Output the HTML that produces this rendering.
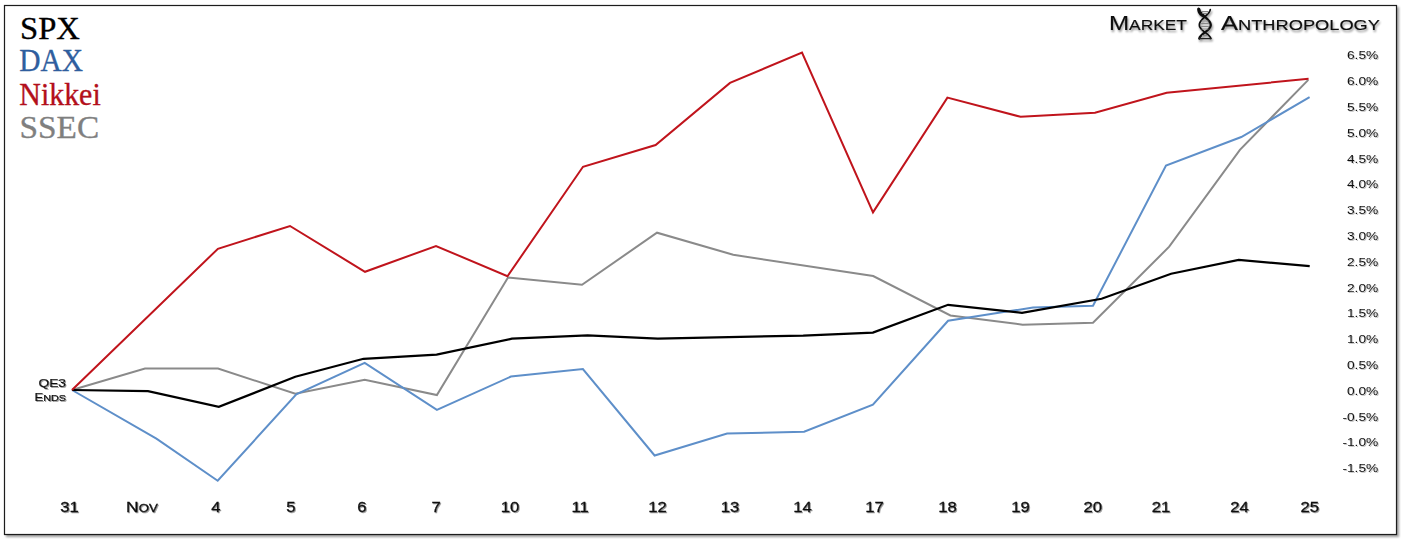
<!DOCTYPE html>
<html><head><meta charset="utf-8">
<style>
html,body{margin:0;padding:0;background:#fff;width:1405px;height:544px;overflow:hidden;}
svg{position:absolute;left:0;top:0;}
.yl{font-family:"Liberation Sans",sans-serif;font-size:11px;fill:#111;}
.xl{font-family:"Liberation Sans",sans-serif;font-size:14.5px;fill:#111;stroke:#111;stroke-width:0.3px;}
.sc{font-size:11px;}
.leg{font-family:"Liberation Serif",serif;font-size:32px;stroke-width:0.35px;}
.logo{font-family:"Liberation Sans",sans-serif;font-size:19.5px;fill:#0a0a0a;stroke:#0a0a0a;stroke-width:0.1px;}
.lsc{font-size:14px;}
.q{font-family:"Liberation Sans",sans-serif;font-size:11.5px;fill:#111;stroke:#111;stroke-width:0.2px;}
</style></head><body>
<svg width="1405" height="544" viewBox="0 0 1405 544">
<defs>
<filter id="sh" x="-5%" y="-5%" width="110%" height="120%"><feGaussianBlur in="SourceAlpha" stdDeviation="1.3"/><feOffset dx="2" dy="2"/><feComponentTransfer><feFuncA type="linear" slope="0.38"/></feComponentTransfer><feMerge><feMergeNode/><feMergeNode in="SourceGraphic"/></feMerge></filter>
<filter id="tsh" x="-10%" y="-10%" width="120%" height="140%"><feGaussianBlur in="SourceAlpha" stdDeviation="0.7"/><feOffset dx="1" dy="1.2"/><feComponentTransfer><feFuncA type="linear" slope="0.4"/></feComponentTransfer><feMerge><feMergeNode/><feMergeNode in="SourceGraphic"/></feMerge></filter>
<filter id="tsh2" x="-10%" y="-10%" width="120%" height="140%"><feGaussianBlur in="SourceAlpha" stdDeviation="0.6"/><feOffset dx="0.8" dy="1"/><feComponentTransfer><feFuncA type="linear" slope="0.25"/></feComponentTransfer><feMerge><feMergeNode/><feMergeNode in="SourceGraphic"/></feMerge></filter>
<filter id="tsh3" x="-10%" y="-20%" width="120%" height="160%"><feGaussianBlur in="SourceAlpha" stdDeviation="1"/><feOffset dx="1.2" dy="2"/><feComponentTransfer><feFuncA type="linear" slope="0.45"/></feComponentTransfer><feMerge><feMergeNode/><feMergeNode in="SourceGraphic"/></feMerge></filter>
</defs>
<rect x="4.5" y="5.5" width="1392" height="529" fill="#fff" stroke="#1a1a1a" stroke-width="1.2" filter="url(#sh)"/>
<g fill="none" stroke-width="2" stroke-linejoin="miter">
<polyline points="72,390 145,368.5 218,368.6 295.3,393.7 364.7,379.7 436.9,395.1 508,277.5 582,284.7 657,232.7 733.2,254.8 873.2,276 950.4,315.5 1022.6,324.7 1093,322.7 1169.2,246.7 1239.9,149.8 1308.3,79.9" stroke="#8a8a8a"/>
<polyline points="72,390 156.4,438.7 217.7,480.7 296.3,394.4 364.7,362.8 436.9,409.9 510.9,376.6 582.9,369 654.6,455.5 727.1,433.5 804.1,431.8 872.9,404.7 948.1,320.8 1033,307.5 1093,305.8 1166,165.6 1241.3,137 1309.6,97.2" stroke="#5e8fc9"/>
<polyline points="72,390 148,391.2 218.8,406.8 295.3,376.8 363.5,358.8 436.6,354.7 511.9,338.7 587.6,335.4 657.8,338.6 803.2,335.6 872.9,332.6 948.1,304.8 1022,312.8 1101.6,298.8 1171.1,273.7 1238.7,259.9 1309.7,266.2" stroke="#000" stroke-width="2.2"/>
<polyline points="72,390 217.9,248.8 290,226 365,271.8 436,246 507.5,276.2 583,166.8 655.6,145 730,82.9 802,52.6 873,212.4 947.4,97.6 1020.6,116.8 1095,112.7 1166.7,92.7 1308.6,78.8" stroke="#c0141c"/>
</g>
<g filter="url(#tsh2)">
<text transform="translate(1378.3,59.3) scale(1.25,1)" text-anchor="end" class="yl">6.5%</text>
<text transform="translate(1378.3,85.1) scale(1.25,1)" text-anchor="end" class="yl">6.0%</text>
<text transform="translate(1378.3,110.9) scale(1.25,1)" text-anchor="end" class="yl">5.5%</text>
<text transform="translate(1378.3,136.7) scale(1.25,1)" text-anchor="end" class="yl">5.0%</text>
<text transform="translate(1378.3,162.5) scale(1.25,1)" text-anchor="end" class="yl">4.5%</text>
<text transform="translate(1378.3,188.3) scale(1.25,1)" text-anchor="end" class="yl">4.0%</text>
<text transform="translate(1378.3,214.1) scale(1.25,1)" text-anchor="end" class="yl">3.5%</text>
<text transform="translate(1378.3,239.9) scale(1.25,1)" text-anchor="end" class="yl">3.0%</text>
<text transform="translate(1378.3,265.7) scale(1.25,1)" text-anchor="end" class="yl">2.5%</text>
<text transform="translate(1378.3,291.5) scale(1.25,1)" text-anchor="end" class="yl">2.0%</text>
<text transform="translate(1378.3,317.3) scale(1.25,1)" text-anchor="end" class="yl">1.5%</text>
<text transform="translate(1378.3,343.1) scale(1.25,1)" text-anchor="end" class="yl">1.0%</text>
<text transform="translate(1378.3,368.9) scale(1.25,1)" text-anchor="end" class="yl">0.5%</text>
<text transform="translate(1378.3,394.7) scale(1.25,1)" text-anchor="end" class="yl">0.0%</text>
<text transform="translate(1378.3,420.5) scale(1.25,1)" text-anchor="end" class="yl">-0.5%</text>
<text transform="translate(1378.3,446.3) scale(1.25,1)" text-anchor="end" class="yl">-1.0%</text>
<text transform="translate(1378.3,472.1) scale(1.25,1)" text-anchor="end" class="yl">-1.5%</text>

</g>
<g filter="url(#tsh)">
<text transform="translate(69.4,512.1) scale(1.15,1)" text-anchor="middle" class="xl">31</text>
<text transform="translate(141.9,512.1) scale(1.2,1)" text-anchor="middle" class="xl">N<tspan class="sc">OV</tspan></text>
<text transform="translate(215.8,512.1) scale(1.15,1)" text-anchor="middle" class="xl">4</text>
<text transform="translate(290.8,512.1) scale(1.15,1)" text-anchor="middle" class="xl">5</text>
<text transform="translate(361.8,512.1) scale(1.15,1)" text-anchor="middle" class="xl">6</text>
<text transform="translate(436.2,512.1) scale(1.15,1)" text-anchor="middle" class="xl">7</text>
<text transform="translate(509.9,512.1) scale(1.15,1)" text-anchor="middle" class="xl">10</text>
<text transform="translate(580.2,512.1) scale(1.15,1)" text-anchor="middle" class="xl">11</text>
<text transform="translate(657.4,512.1) scale(1.15,1)" text-anchor="middle" class="xl">12</text>
<text transform="translate(730,512.1) scale(1.15,1)" text-anchor="middle" class="xl">13</text>
<text transform="translate(802.5,512.1) scale(1.15,1)" text-anchor="middle" class="xl">14</text>
<text transform="translate(874.5,512.1) scale(1.15,1)" text-anchor="middle" class="xl">17</text>
<text transform="translate(947.6,512.1) scale(1.15,1)" text-anchor="middle" class="xl">18</text>
<text transform="translate(1020.5,512.1) scale(1.15,1)" text-anchor="middle" class="xl">19</text>
<text transform="translate(1092.7,512.1) scale(1.15,1)" text-anchor="middle" class="xl">20</text>
<text transform="translate(1161,512.1) scale(1.15,1)" text-anchor="middle" class="xl">21</text>
<text transform="translate(1239.4,512.1) scale(1.15,1)" text-anchor="middle" class="xl">24</text>
<text transform="translate(1309.8,512.1) scale(1.15,1)" text-anchor="middle" class="xl">25</text>

<text transform="translate(66,386.5) scale(1.2,1)" text-anchor="end" class="q">QE3</text>
<text transform="translate(66,400.5) scale(1.14,1)" text-anchor="end" class="q">E<tspan font-size="9.5px">NDS</tspan></text>
</g>
<g class="leg">
<text transform="translate(20,39.1) scale(1.02,1)" fill="#000" stroke="#000">SPX</text>
<text transform="translate(19.2,71.1) scale(0.92,1)" fill="#2f5e9e" stroke="#2f5e9e">DAX</text>
<text transform="translate(19.3,105.0) scale(0.935,1)" fill="#b30f1b" stroke="#b30f1b">Nikkei</text>
<text transform="translate(19.6,137.9) scale(1.04,1)" fill="#7f7f7f" stroke="#7f7f7f">SSEC</text>
</g>
<g filter="url(#tsh3)">
<text x="1109" y="30" class="logo" textLength="78" lengthAdjust="spacingAndGlyphs">M<tspan class="lsc">ARKET</tspan></text>
<text x="1221" y="30" class="logo" textLength="159" lengthAdjust="spacingAndGlyphs">A<tspan class="lsc">NTHROPOLOGY</tspan></text>
<g fill="none" stroke="#111" stroke-linecap="round">
<path d="M1199.3,9.5 C1199.5,15 1210.8,18.5 1210.8,25 C1210.8,31 1200,33.5 1199.3,38.5" stroke-width="2.3"/>
<path d="M1210.3,9.5 C1210,15 1199.3,18.5 1199.3,25 C1199.3,31 1210,33.5 1210.8,38.5" stroke-width="1.7"/>
<path d="M1201,11.5 H1208 M1202,13.5 H1207 M1202,21 H1208 M1201.5,23.5 H1208.5 M1201.5,26.5 H1208.5 M1202,29 H1208 M1202.5,35.5 H1207.5" stroke="#888" stroke-width="1.1"/>
<path d="M1199,38.6 H1211" stroke="#222" stroke-width="1.4"/>
<path d="M1198.6,9 C1198.6,12 1200,14 1202.5,15.5" stroke="#111" stroke-width="3"/>
</g>
</g>
</svg>
</body></html>
